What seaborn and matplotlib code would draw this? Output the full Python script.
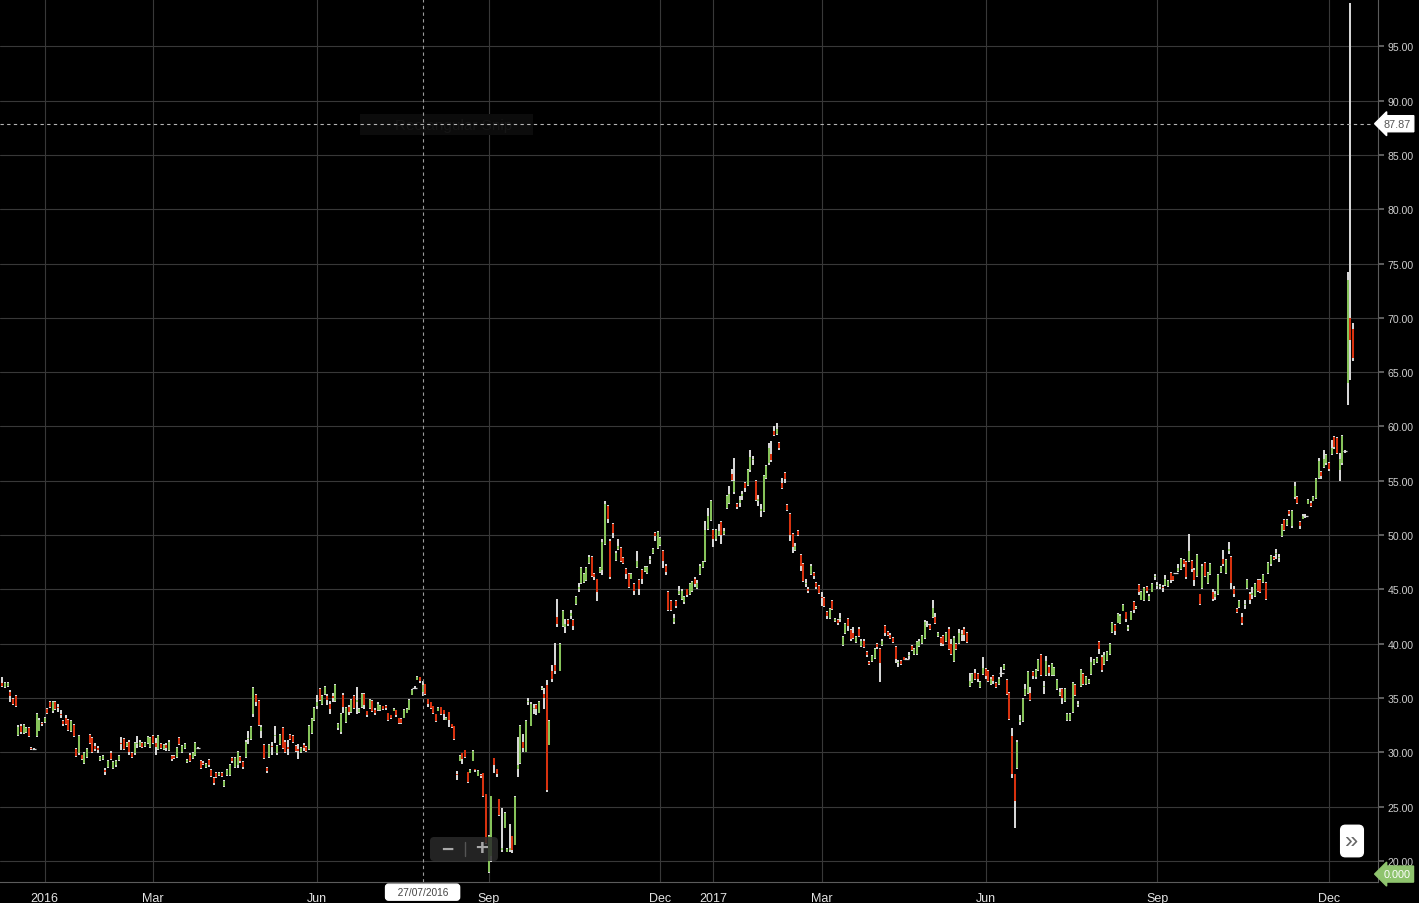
import numpy as np
import pandas as pd
import matplotlib
matplotlib.use("Agg")
import matplotlib.pyplot as plt
import matplotlib.transforms as mtransforms
from matplotlib.patches import FancyBboxPatch, Rectangle
from matplotlib.lines import Line2D
import seaborn as sns

# daily OHLC bars (one per trading day from 8 Dec 2015)
opens = [
    36.4, 36.0, 36.1, 35.6, 34.9, 35.2, 31.6, 32.4, 31.8, 31.9,
    32.2, 30.4, 30.3, 31.5, 32.0, 32.7, 32.8, 34.0, 34.6, 33.8,
    34.6, 34.2, 33.5, 32.9, 33.2, 33.0, 32.0, 32.5, 30.3, 29.9,
    29.8, 29.0, 29.6, 31.6, 31.3, 30.6, 30.4, 29.3, 29.4, 28.4,
    28.7, 29.9, 28.6, 28.8, 29.3, 30.9, 31.2, 30.6, 31.0, 29.9,
    29.9, 30.8, 30.6, 30.9, 30.6, 30.9, 30.5, 31.5, 30.9, 30.3,
    30.8, 30.3, 30.7, 30.2, 29.7, 29.7, 29.6, 31.3, 30.0, 30.4,
    29.1, 29.8, 29.5, 29.8, 30.4, 29.2, 29.0, 28.7, 29.3, 28.4,
    27.6, 28.1, 27.9, 28.1, 26.9, 27.9, 27.9, 29.5, 28.7, 28.8,
    29.6, 29.1, 29.6, 31.2, 31.2, 33.5, 35.3, 34.7, 32.0, 30.7,
    28.6, 29.6, 30.6, 31.5, 29.9, 30.8, 32.2, 31.0, 30.5, 31.6,
    31.5, 30.6, 30.3, 30.0, 30.7, 30.5, 30.3, 31.8, 33.0, 34.3,
    35.8, 34.5, 35.4, 35.2, 34.5, 35.2, 34.7, 32.2, 31.9, 35.3,
    32.8, 34.2, 33.7, 35.2, 34.6, 33.7, 34.2, 35.4, 33.8, 34.1,
    34.7, 33.9, 33.9, 33.9, 34.3, 34.3, 33.6, 33.4, 33.8, 33.9,
    33.2, 33.1, 33.2, 33.6, 33.9, 35.3, 35.9, 36.7, 36.9, 35.6,
    36.3, 34.9, 34.6, 34.3, 33.5, 33.8, 34.2, 33.9, 33.0, 33.7,
    32.6, 32.4, 28.0, 29.2, 29.9, 30.2, 28.2, 28.1, 29.2, 28.5,
    27.8, 27.9, 28.1, 26.2, 19.0, 20.5, 29.5, 28.5, 25.7, 21.0,
    23.0, 20.8, 21.0, 22.3, 21.5, 28.5, 29.0, 31.0, 30.0, 34.6,
    32.4, 34.0, 34.4, 33.6, 35.8, 35.4, 36.2, 30.7, 37.5, 38.0,
    42.5, 37.5, 41.6, 41.5, 42.2, 42.6, 42.2, 43.7, 45.0, 45.6,
    45.7, 45.9, 47.4, 48.0, 46.4, 46.0, 46.6, 46.8, 49.2, 52.7,
    49.5, 51.0, 47.7, 48.7, 48.8, 47.9, 46.9, 46.4, 46.0, 45.5,
    47.1, 45.9, 46.8, 46.7, 46.5, 47.7, 48.4, 50.2, 48.8, 49.1,
    48.5, 47.2, 44.8, 43.9, 42.0, 43.9, 44.6, 44.1, 43.8, 45.0,
    44.6, 44.9, 46.0, 45.1, 46.4, 47.1, 47.6, 50.6, 51.4, 50.5,
    49.6, 50.0, 51.2, 50.1, 52.5, 53.0, 55.6, 54.0, 52.9, 53.0,
    53.6, 54.8, 54.6, 56.0, 56.9, 55.0, 53.1, 52.2, 52.2, 55.3,
    56.6, 57.5, 59.6, 59.3, 58.5, 54.8, 55.7, 52.8, 51.9, 50.1,
    48.6, 50.4, 48.2, 47.3, 45.5, 45.0, 46.4, 46.5, 45.6, 45.3,
    44.3, 44.2, 42.9, 42.4, 43.9, 42.1, 42.2, 42.3, 39.9, 41.0,
    42.3, 41.3, 41.0, 40.2, 41.4, 39.8, 40.3, 39.2, 38.3, 38.4,
    38.7, 40.0, 39.5, 39.9, 41.6, 41.1, 40.8, 40.5, 39.7, 38.2,
    38.4, 38.8, 38.6, 38.9, 39.8, 39.1, 39.1, 39.8, 40.1, 40.5,
    41.8, 41.7, 42.5, 42.5, 40.7, 40.5, 40.7, 40.3, 41.4, 40.0,
    38.4, 40.0, 40.1, 40.8, 41.4, 41.0, 36.1, 36.5, 37.3, 37.2,
    36.0, 37.2, 37.7, 37.5, 36.3, 37.0, 36.4, 36.3, 37.3, 37.7,
    36.7, 35.5, 31.5, 28.0, 28.6, 32.8, 32.9, 35.3, 35.5, 35.5,
    37.4, 36.9, 37.6, 39.0, 36.0, 37.1, 37.9, 37.1, 37.1, 35.8,
    35.3, 35.8, 34.7, 33.0, 33.0, 33.7, 36.2, 34.4, 36.1, 37.2,
    36.3, 36.4, 37.2, 38.1, 38.3, 40.2, 38.8, 38.1, 38.5, 39.1,
    41.1, 41.7, 41.9, 41.9, 43.0, 42.9, 41.4, 42.2, 43.8, 43.3,
    45.4, 44.0, 44.0, 45.2, 44.0, 44.8, 46.1, 45.3, 45.2, 45.2,
    45.4, 45.3, 46.5, 46.2, 46.5, 46.7, 46.9, 47.7, 47.5, 47.6,
    47.6, 46.8, 46.2, 44.6, 45.1, 47.4, 45.6, 46.4, 44.8, 44.3,
    44.6, 46.6, 47.8, 46.5, 48.5, 48.0, 45.0, 43.2, 43.4, 42.5,
    43.6, 45.1, 44.6, 44.5, 44.4, 45.9, 45.9, 45.7, 45.6, 46.5,
    47.3, 48.0, 48.3, 47.9, 49.9, 51.4, 50.9, 52.2, 50.8, 53.5,
    53.5, 51.2, 51.5, 51.8, 52.9, 53.0, 53.1, 53.4, 55.3, 55.8,
    56.3, 56.6, 56.6, 57.5, 59.0, 58.9, 56.0, 56.6, 57.7, 64.0,
    70.0, 69.0,
]

highs = [
    36.9, 36.5, 36.5, 35.7, 35.0, 35.3, 32.5, 32.6, 32.6, 32.3,
    32.3, 30.5, 30.4, 33.6, 33.2, 32.8, 33.3, 34.1, 34.7, 34.7,
    34.7, 34.5, 33.9, 33.0, 33.4, 33.1, 33.0, 32.6, 30.4, 31.6,
    29.8, 30.0, 30.4, 31.7, 31.4, 30.9, 30.6, 29.7, 29.8, 28.6,
    29.3, 30.1, 29.2, 29.3, 29.8, 31.4, 31.3, 31.0, 31.1, 30.0,
    31.0, 31.5, 31.1, 31.0, 31.0, 31.5, 31.4, 31.6, 31.3, 31.6,
    30.9, 30.8, 30.9, 31.1, 29.8, 29.8, 30.5, 31.4, 30.7, 30.9,
    29.4, 29.9, 30.0, 31.0, 30.5, 29.3, 29.2, 29.0, 29.4, 28.5,
    27.7, 28.2, 28.2, 28.2, 27.5, 28.5, 28.9, 29.6, 29.6, 30.1,
    29.7, 29.2, 31.1, 32.0, 32.4, 36.0, 35.4, 34.8, 32.5, 30.8,
    28.7, 30.8, 31.0, 32.4, 30.7, 31.7, 32.3, 31.1, 31.1, 31.7,
    31.6, 30.7, 30.8, 30.5, 30.9, 30.6, 32.5, 33.2, 34.2, 35.3,
    35.9, 35.3, 36.1, 35.4, 34.7, 35.5, 36.3, 32.7, 33.6, 35.5,
    34.2, 34.4, 34.9, 35.3, 36.0, 34.1, 35.5, 35.5, 33.8, 34.9,
    34.8, 34.1, 34.6, 34.4, 34.3, 34.4, 33.6, 33.4, 34.1, 33.9,
    33.2, 33.2, 34.0, 34.1, 34.9, 35.8, 36.1, 37.0, 36.9, 36.6,
    36.3, 34.9, 34.6, 34.3, 33.5, 34.2, 34.2, 33.9, 33.3, 33.7,
    32.6, 32.4, 28.3, 29.8, 29.9, 30.2, 28.2, 28.5, 30.2, 28.5,
    28.4, 28.0, 28.1, 26.2, 22.4, 26.0, 29.5, 28.5, 25.7, 24.9,
    24.5, 21.2, 23.4, 22.3, 26.0, 31.4, 32.5, 31.7, 33.0, 35.0,
    34.6, 34.5, 34.5, 34.7, 36.1, 35.9, 36.7, 33.0, 38.0, 40.1,
    44.1, 40.1, 43.1, 42.3, 42.3, 43.1, 42.3, 44.4, 45.6, 47.1,
    46.5, 47.1, 48.2, 48.1, 46.5, 46.0, 47.1, 49.6, 53.1, 52.8,
    49.6, 51.1, 48.5, 49.6, 48.9, 48.0, 47.0, 46.5, 46.5, 45.6,
    48.5, 46.0, 46.9, 47.2, 47.2, 48.1, 48.8, 50.3, 50.4, 49.8,
    48.6, 47.3, 44.9, 44.0, 42.7, 44.0, 45.3, 45.0, 44.4, 45.0,
    45.6, 45.8, 46.1, 45.9, 47.3, 47.6, 51.3, 52.5, 53.2, 50.6,
    50.6, 51.0, 51.3, 50.7, 53.7, 54.5, 56.1, 57.1, 53.0, 53.6,
    54.1, 54.9, 56.1, 57.8, 57.3, 55.1, 53.7, 52.9, 55.5, 56.5,
    58.5, 58.7, 60.0, 60.3, 58.6, 55.3, 55.8, 52.9, 52.0, 50.2,
    49.3, 50.5, 48.3, 47.4, 46.0, 45.2, 47.3, 46.6, 45.7, 45.4,
    44.8, 44.3, 43.0, 43.3, 44.0, 42.4, 42.3, 42.8, 40.7, 41.9,
    42.4, 41.4, 41.5, 40.7, 41.5, 40.4, 40.4, 39.3, 38.4, 39.0,
    39.6, 40.1, 39.6, 40.4, 41.7, 41.2, 41.0, 40.6, 39.8, 38.5,
    38.5, 38.8, 38.7, 39.2, 39.9, 39.6, 40.3, 40.4, 40.8, 42.2,
    42.1, 41.8, 44.0, 42.8, 41.1, 40.6, 40.8, 41.1, 41.5, 40.4,
    40.7, 40.1, 41.4, 41.3, 41.5, 41.1, 37.3, 37.3, 37.7, 37.3,
    36.6, 38.8, 37.8, 37.6, 36.9, 37.1, 36.5, 36.9, 37.9, 38.1,
    36.8, 35.6, 32.2, 28.0, 31.1, 33.4, 35.0, 36.3, 37.5, 36.0,
    37.5, 37.7, 38.6, 39.1, 36.6, 38.9, 38.0, 38.2, 37.9, 36.8,
    35.9, 35.9, 35.9, 33.6, 33.6, 36.5, 36.3, 34.7, 37.7, 37.3,
    37.0, 36.8, 38.8, 38.6, 38.8, 40.3, 39.0, 39.2, 39.3, 40.1,
    42.0, 41.8, 42.8, 42.7, 43.7, 42.9, 41.7, 43.0, 43.9, 43.5,
    45.5, 44.9, 45.2, 45.3, 44.6, 45.6, 46.4, 45.7, 45.5, 45.4,
    46.3, 45.9, 46.6, 46.2, 46.55, 47.3, 47.9, 47.8, 47.6, 50.1,
    47.7, 47.0, 48.3, 44.6, 47.3, 47.5, 46.6, 47.4, 45.0, 44.9,
    46.4, 47.2, 48.6, 47.8, 49.4, 48.1, 45.3, 43.3, 44.0, 42.8,
    44.0, 46.0, 44.8, 45.2, 45.6, 46.0, 46.0, 46.4, 45.7, 47.5,
    48.2, 48.05, 48.7, 48.3, 51.0, 51.5, 51.5, 52.3, 52.3, 54.9,
    53.6, 51.3, 51.9, 51.9, 53.3, 53.1, 53.6, 55.3, 57.1, 55.9,
    57.8, 57.5, 56.7, 58.8, 59.1, 59.0, 57.6, 59.2, 57.8, 74.2,
    99.0, 69.5,
]

lows = [
    36.0, 35.9, 36.0, 34.6, 34.4, 34.2, 31.5, 31.7, 31.7, 31.8,
    31.4, 30.2, 30.25, 31.4, 32.0, 32.4, 32.7, 33.5, 34.1, 33.6,
    33.9, 33.7, 33.2, 32.4, 32.5, 32.0, 31.9, 31.4, 29.6, 29.8,
    29.3, 28.9, 29.5, 30.8, 29.9, 30.1, 29.9, 29.2, 29.3, 27.9,
    28.6, 29.3, 28.5, 28.7, 29.2, 30.2, 30.2, 30.5, 29.8, 29.5,
    29.8, 30.4, 30.5, 30.4, 30.5, 30.8, 30.4, 30.8, 29.8, 30.2,
    30.3, 30.2, 30.1, 30.1, 29.2, 29.4, 29.5, 30.7, 29.9, 30.3,
    29.0, 29.1, 29.4, 29.7, 30.35, 28.5, 28.8, 28.6, 28.7, 27.7,
    27.0, 27.6, 27.8, 27.7, 26.8, 27.8, 27.8, 29.0, 28.6, 28.6,
    29.0, 28.5, 29.5, 30.8, 31.1, 33.3, 34.3, 32.4, 31.3, 29.4,
    28.1, 29.5, 29.8, 30.9, 29.8, 30.7, 30.3, 29.9, 29.8, 31.1,
    30.9, 30.0, 29.4, 29.9, 30.1, 30.0, 30.2, 31.7, 32.9, 34.0,
    34.7, 34.4, 35.3, 34.4, 33.5, 34.6, 34.6, 32.1, 31.7, 33.6,
    32.7, 33.4, 33.6, 34.0, 33.5, 33.6, 34.1, 34.0, 33.3, 34.0,
    33.7, 33.4, 33.8, 33.8, 33.9, 33.9, 32.9, 33.1, 33.8, 33.3,
    32.6, 32.6, 33.2, 33.6, 33.9, 35.3, 35.8, 36.7, 36.4, 35.2,
    35.3, 34.2, 34.0, 33.5, 32.8, 33.8, 33.4, 33.0, 33.0, 32.3,
    32.2, 31.1, 27.5, 29.2, 28.9, 29.5, 27.2, 28.1, 29.2, 28.2,
    27.8, 27.6, 25.9, 21.6, 18.9, 19.9, 28.1, 27.7, 24.1, 20.8,
    23.0, 20.8, 20.8, 20.7, 21.5, 27.7, 28.9, 30.0, 30.0, 34.4,
    32.4, 33.5, 33.4, 33.6, 35.7, 34.0, 26.4, 30.7, 36.5, 37.2,
    41.5, 37.5, 41.5, 41.0, 41.6, 42.3, 41.3, 43.6, 44.8, 45.5,
    45.6, 45.8, 47.3, 46.1, 45.9, 43.9, 46.5, 46.3, 49.1, 51.1,
    46.0, 49.7, 47.6, 48.6, 47.5, 47.3, 46.0, 45.1, 46.0, 44.5,
    47.0, 44.5, 45.5, 46.6, 46.4, 47.3, 48.3, 49.5, 48.7, 49.0,
    47.0, 46.3, 43.0, 43.0, 41.8, 43.3, 44.5, 44.0, 43.7, 44.3,
    44.5, 44.8, 45.2, 45.0, 46.3, 47.0, 47.5, 50.5, 51.3, 48.9,
    49.5, 49.9, 49.2, 50.0, 52.4, 52.9, 55.0, 53.8, 52.4, 52.6,
    53.2, 54.0, 54.5, 55.8, 56.5, 53.1, 52.7, 51.7, 52.1, 55.2,
    56.5, 56.7, 59.1, 59.2, 57.8, 54.2, 54.8, 52.2, 49.5, 48.4,
    48.5, 49.9, 46.7, 45.7, 45.2, 44.7, 46.3, 46.0, 45.0, 44.6,
    43.5, 43.4, 42.3, 42.3, 43.1, 42.0, 41.7, 42.0, 39.8, 40.9,
    41.2, 40.3, 40.4, 40.1, 40.6, 39.7, 39.6, 38.8, 38.0, 38.3,
    38.6, 39.5, 36.5, 39.8, 40.7, 40.7, 40.4, 40.1, 38.2, 37.9,
    38.0, 38.5, 38.5, 38.6, 39.3, 39.0, 39.0, 39.7, 40.0, 40.4,
    41.5, 41.3, 42.4, 41.8, 40.6, 39.8, 39.8, 40.2, 39.4, 39.0,
    38.3, 39.4, 40.0, 40.3, 40.3, 40.1, 36.0, 36.4, 36.7, 36.5,
    35.9, 37.1, 36.8, 36.5, 36.2, 36.3, 35.9, 36.2, 36.9, 37.6,
    35.3, 33.0, 27.6, 23.0, 28.5, 32.5, 32.8, 35.2, 35.4, 34.7,
    36.8, 36.8, 37.5, 37.0, 35.4, 37.0, 37.0, 37.0, 37.0, 35.7,
    35.2, 34.5, 34.6, 32.9, 32.9, 33.6, 35.2, 34.2, 36.0, 36.2,
    36.2, 36.3, 37.1, 38.0, 38.2, 39.1, 37.4, 38.0, 38.4, 39.0,
    41.0, 40.8, 41.9, 41.8, 43.0, 42.0, 41.2, 42.2, 42.8, 43.2,
    44.5, 44.0, 43.9, 44.7, 43.9, 44.8, 45.9, 45.0, 45.0, 44.8,
    45.3, 45.2, 45.6, 45.8, 46.45, 46.6, 46.8, 47.1, 46.0, 47.5,
    46.6, 45.3, 46.1, 43.6, 45.0, 46.1, 45.5, 46.3, 43.9, 44.0,
    44.5, 46.5, 47.2, 46.4, 48.3, 45.0, 44.3, 42.8, 43.3, 41.7,
    43.2, 45.0, 43.7, 44.1, 44.3, 44.8, 44.7, 45.6, 44.0, 46.4,
    47.2, 47.75, 47.8, 47.5, 49.8, 50.4, 50.8, 51.8, 50.7, 53.3,
    52.9, 50.6, 51.5, 51.6, 52.9, 52.6, 53.1, 53.3, 55.2, 55.2,
    56.2, 56.5, 55.9, 57.4, 57.9, 57.5, 55.0, 56.5, 57.6, 62.0,
    64.3, 66.0,
]

closes = [
    36.1, 36.4, 36.4, 35.2, 34.5, 34.3, 32.3, 31.9, 32.5, 32.2,
    31.5, 30.3, 30.35, 33.5, 33.0, 32.6, 33.2, 33.6, 34.2, 34.6,
    34.0, 34.1, 33.4, 32.6, 32.6, 32.1, 32.9, 31.5, 29.7, 31.5,
    29.4, 29.9, 30.3, 30.9, 30.0, 30.3, 30.2, 29.6, 29.7, 28.2,
    29.2, 29.4, 29.1, 29.2, 29.7, 30.8, 30.3, 30.9, 30.0, 29.6,
    30.9, 30.9, 31.0, 30.5, 30.9, 31.4, 31.3, 30.9, 30.5, 31.5,
    30.4, 30.7, 30.4, 31.0, 29.4, 29.5, 30.4, 30.8, 30.6, 30.8,
    29.3, 29.2, 29.9, 30.9, 30.45, 28.6, 28.9, 28.9, 28.8, 27.8,
    27.2, 27.7, 28.1, 27.8, 27.4, 28.4, 28.8, 29.2, 29.5, 30.0,
    29.2, 28.7, 31.0, 31.3, 32.3, 35.9, 34.6, 32.5, 32.3, 29.5,
    28.3, 30.7, 30.5, 31.6, 30.6, 31.6, 30.4, 30.0, 30.3, 31.2,
    31.0, 30.1, 30.1, 30.4, 30.4, 30.1, 32.4, 33.1, 34.1, 34.6,
    34.8, 35.2, 36.0, 34.8, 34.0, 35.0, 36.2, 32.6, 33.5, 34.2,
    34.1, 33.7, 34.8, 34.1, 34.8, 34.0, 35.4, 34.4, 33.4, 34.8,
    33.8, 33.6, 34.5, 34.3, 34.0, 34.1, 33.0, 33.2, 34.0, 33.4,
    32.7, 32.7, 33.9, 34.0, 34.8, 35.7, 35.95, 36.9, 36.6, 36.2,
    35.4, 34.5, 34.1, 33.6, 32.9, 34.1, 33.5, 33.5, 33.2, 33.0,
    32.3, 31.2, 27.9, 29.7, 29.4, 29.6, 27.3, 28.4, 30.1, 28.4,
    28.3, 27.8, 26.0, 21.7, 22.3, 26.0, 28.8, 28.0, 24.2, 21.2,
    24.4, 21.1, 21.2, 21.0, 25.9, 28.8, 32.4, 30.4, 32.9, 34.7,
    34.5, 34.1, 34.0, 34.6, 35.9, 35.0, 26.5, 32.9, 36.8, 37.5,
    41.8, 40.0, 43.0, 41.8, 41.8, 42.8, 41.6, 44.3, 45.2, 47.0,
    46.4, 47.0, 48.0, 46.2, 46.1, 44.8, 47.0, 49.4, 52.9, 51.5,
    46.1, 50.2, 48.4, 49.0, 47.6, 47.4, 46.4, 45.2, 46.4, 44.9,
    47.6, 45.0, 46.0, 47.1, 47.1, 47.8, 48.7, 49.9, 50.3, 49.7,
    47.6, 46.6, 43.1, 43.1, 42.4, 43.5, 44.9, 44.9, 44.3, 44.5,
    45.5, 45.7, 45.5, 45.6, 47.2, 47.5, 50.5, 51.8, 53.1, 49.6,
    50.5, 50.4, 50.0, 50.4, 53.6, 53.8, 55.1, 55.0, 52.6, 53.2,
    53.8, 54.3, 56.0, 57.2, 57.0, 53.2, 53.3, 52.4, 55.4, 56.4,
    58.0, 56.9, 59.2, 59.8, 58.0, 54.3, 55.2, 52.3, 50.0, 48.9,
    49.0, 50.0, 47.2, 45.8, 45.6, 44.9, 47.2, 46.2, 45.2, 44.7,
    44.2, 43.5, 42.6, 43.2, 43.2, 42.3, 41.9, 42.4, 40.6, 41.8,
    41.6, 40.4, 40.5, 40.6, 40.7, 40.3, 39.7, 39.0, 38.1, 38.9,
    39.5, 39.7, 38.2, 40.3, 41.0, 40.8, 40.5, 40.2, 38.6, 38.3,
    38.1, 38.5, 38.6, 39.0, 39.4, 39.5, 40.2, 40.3, 40.7, 42.0,
    41.85, 41.4, 43.3, 41.9, 41.0, 40.1, 40.0, 41.0, 39.5, 39.1,
    40.5, 39.5, 41.0, 40.9, 40.8, 40.2, 36.6, 37.2, 36.8, 36.8,
    36.5, 37.8, 37.0, 36.6, 36.8, 36.6, 36.0, 36.8, 37.35, 38.0,
    35.4, 33.1, 28.0, 25.5, 31.0, 33.0, 34.9, 35.8, 37.4, 34.8,
    37.0, 37.6, 38.5, 37.1, 36.1, 38.4, 37.3, 38.1, 37.8, 36.7,
    35.6, 35.0, 35.8, 33.5, 33.5, 36.4, 35.3, 34.5, 37.6, 36.3,
    36.9, 36.7, 38.3, 38.5, 38.7, 39.5, 37.6, 39.0, 39.2, 40.0,
    41.9, 41.2, 42.7, 42.6, 43.6, 42.3, 41.5, 42.9, 43.1, 43.4,
    44.8, 44.8, 45.1, 44.9, 44.4, 45.5, 46.2, 45.4, 45.3, 45.1,
    46.0, 45.8, 45.9, 45.9, 46.5, 47.0, 47.8, 47.3, 46.1, 48.5,
    46.9, 45.9, 48.2, 43.7, 47.2, 46.2, 46.5, 47.3, 44.1, 44.6,
    46.3, 47.1, 47.3, 47.7, 48.7, 45.6, 44.6, 42.9, 43.9, 41.9,
    43.7, 45.9, 44.0, 44.7, 45.5, 44.9, 44.8, 46.3, 44.1, 47.4,
    48.1, 47.8, 48.4, 48.0, 50.9, 50.5, 51.4, 51.9, 52.2, 54.5,
    53.0, 50.8, 51.8, 51.8, 53.2, 52.7, 53.5, 55.2, 56.8, 55.4,
    57.0, 57.4, 56.1, 58.0, 58.1, 57.6, 57.0, 59.1, 57.7, 73.5,
    68.0, 66.3,
]

# London exchange holidays inside the window
uk_holidays = [
    "2015-12-25", "2015-12-28", "2016-01-01", "2016-03-25", "2016-03-28",
    "2016-05-02", "2016-05-30", "2016-08-29", "2016-12-26", "2016-12-27",
    "2017-01-02", "2017-04-14", "2017-04-17", "2017-05-01", "2017-05-29",
    "2017-08-28", "2017-12-25", "2017-12-26",
]
y_ticks = [20, 25, 30, 35, 40, 45, 50, 55, 60, 65, 70, 75, 80, 85, 90, 95]
label_months = [1, 3, 6, 9, 12]
cross_date = "2016-07-27"
cross_price = 87.87

sns.set_theme(style="dark", rc={
    "axes.facecolor": "black",
    "figure.facecolor": "black",
    "grid.color": "#383838",
    "axes.edgecolor": "#5c5c5c",
})
plt.rcParams["font.family"] = ["Liberation Sans", "DejaVu Sans"]

n = len(closes)
dates = pd.bdate_range("2015-12-08", periods=n, freq="C", holidays=uk_holidays)
x = np.arange(n)
o, h, l, c = (np.array(v, dtype=float) for v in (opens, highs, lows, closes))

fig = plt.figure(figsize=(14.19, 9.04), dpi=100)
ax = fig.add_axes([0, 21 / 904, 1378 / 1419, 883 / 904])

# wicks, then coloured bodies
ax.vlines(x, l, h, colors="#d6d6d6", lw=1.45, zorder=3)
up = c >= o
ax.vlines(x[up], o[up], c[up], colors="#86c35a", lw=1.45, zorder=4)
ax.vlines(x[~up], o[~up], c[~up], colors="#d8320f", lw=1.45, zorder=4)
doji = np.abs(c - o) < 0.06
ax.hlines(c[doji], x[doji] - 0.9, x[doji] + 0.9, colors="#d6d6d6", lw=0.9, zorder=4)

# month ticks at first bar of the month
tick_pos, tick_lab = [], []
for i in range(1, n):
    if dates[i].month != dates[i - 1].month and dates[i].month in label_months:
        tick_pos.append(i)
        tick_lab.append(str(dates[i].year) if dates[i].month == 1 else dates[i].strftime("%b"))
ax.set_xticks(tick_pos)
ax.set_xticklabels(tick_lab)
ax.set_xlim(-0.9, 520.5)

ax.set_ylim(18.07, 99.35)
ax.yaxis.tick_right()
ax.set_yticks(y_ticks)
ax.set_yticklabels([f"{v:.2f}" for v in y_ticks])

ax.grid(True, color="#383838", lw=0.8)
ax.tick_params(axis="y", length=4, pad=3, color="#6a6a6a", labelcolor="#cfcfcf", labelsize=7.6)
ax.tick_params(axis="x", length=5, pad=2, color="#6a6a6a", labelcolor="#e4e4e4", labelsize=9)
for side in ("top", "left"):
    ax.spines[side].set_visible(False)
for side in ("right", "bottom"):
    ax.spines[side].set_color("#5c5c5c")
    ax.spines[side].set_linewidth(0.8)

# crosshair
idx = dates.get_loc(pd.Timestamp(cross_date))
ax.axvline(idx, color="#9c9c9c", lw=0.8, ls=(0, (3, 3)), zorder=5)
ax.axhline(cross_price, xmax=0.994, color="#b4b4b4", lw=0.8, ls=(0, (3, 3)), zorder=5)

ydata = mtransforms.blended_transform_factory(ax.transAxes, ax.transData)
xdata = mtransforms.blended_transform_factory(ax.transData, ax.transAxes)
ax.text(1.004, cross_price, f"{cross_price:.2f}", transform=ydata, ha="left", va="center",
        fontsize=7.8, color="#555555", clip_on=False, zorder=8,
        bbox=dict(boxstyle="larrow,pad=0.28", fc="white", ec="white"))
ax.text(1.004, 18.8, "0.000", transform=ydata, ha="left", va="center",
        fontsize=7.8, color="white", clip_on=False, zorder=8,
        bbox=dict(boxstyle="larrow,pad=0.28", fc="#8fc46e", ec="#8fc46e"))
ax.text(idx, -0.0115, "   " + pd.Timestamp(cross_date).strftime("%d/%m/%Y") + "   ",
        transform=xdata, ha="center", va="center", fontsize=7.3, color="#444444",
        clip_on=False, zorder=8,
        bbox=dict(boxstyle="round,pad=0.3,rounding_size=0.3", fc="white", ec="white"))

# faint snipping-tool box behind the crosshair
ax.add_patch(Rectangle((360 / 1378, (883 - 136) / 883), 173 / 1378, 21 / 883,
                       transform=ax.transAxes, fc="#0c0c0c", ec="none", zorder=2))
ax.text(395 / 1378, (883 - 126) / 883, "Rectangular Snip", transform=ax.transAxes,
        fontsize=11, color="#161616", va="center", zorder=2)

# zoom control
ax.add_patch(FancyBboxPatch((430 / 1378, (883 - 862) / 883), 68 / 1378, 24 / 883,
                            boxstyle="round,pad=0,rounding_size=0.003",
                            transform=ax.transAxes, fc="#2a2a2a", ec="none",
                            alpha=0.85, zorder=6, mutation_aspect=1378 / 883))
ax.text(447 / 1378, (883 - 850) / 883, "\u2212", transform=ax.transAxes, ha="center",
        va="center", fontsize=15, color="#a8a8a8", fontweight="bold", zorder=7)
ax.text(482 / 1378, (883 - 850) / 883, "+", transform=ax.transAxes, ha="center",
        va="center", fontsize=16, color="#a8a8a8", fontweight="bold", zorder=7)
ax.add_line(Line2D([465 / 1378] * 2, [(883 - 857) / 883, (883 - 843) / 883],
                   transform=ax.transAxes, color="#555555", lw=1, zorder=7))

# scroll button
ax.text(1352 / 1378, (883 - 842) / 883, "\u00bb", transform=ax.transAxes, ha="center",
        va="center", fontsize=17, color="#666666", zorder=8,
        bbox=dict(boxstyle="round,pad=0.2,rounding_size=0.2", fc="white", ec="white"))

fig.savefig("out.png", dpi=100, facecolor="black")
